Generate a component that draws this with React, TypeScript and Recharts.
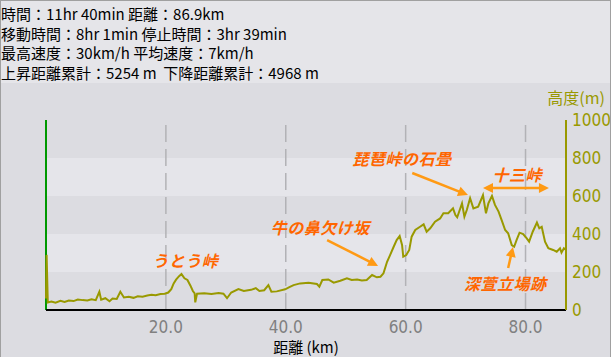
import React from 'react'
import {
  LineChart,
  Line,
  XAxis,
  YAxis,
  ReferenceArea,
  ReferenceLine,
  ReferenceDot,
} from 'recharts'

// distance (km) and elevation (m)
const distanceKm = [
  0, 0.1, 0.3, 0.9, 1.6, 2.4, 3.1, 3.8, 4.6, 5.3, 6.1, 6.9, 7.6, 8.3, 8.9, 9.2,
  9.9, 10.6, 11.1, 11.8, 12.4, 13.0, 13.8, 14.6, 15.3, 16.1, 16.9, 17.6, 18.3,
  19.1, 19.8, 20.4, 20.9, 21.3, 21.7, 22.2, 22.6, 23.1, 23.6, 24.1, 24.5, 24.8,
  24.9, 25.2, 26.4, 27.6, 28.8, 29.6, 30.2, 30.9, 32.1, 33.0, 34.2, 35.0, 35.6,
  36.4, 37.1, 37.6, 38.5, 39.9, 40.6, 41.3, 42.4, 43.8, 45.2, 45.6, 46.1, 47.1,
  48.0, 49.1, 50.2, 51.0, 51.9, 52.7, 53.5, 54.4, 55.2, 55.8, 56.3, 56.9, 57.4,
  58.0, 58.5, 59.0, 59.4, 59.6, 60.1, 60.6, 61.0, 61.6, 62.4, 63.0, 63.5, 64.1,
  64.9, 65.75, 66.3, 67.1, 67.9, 68.3, 68.6, 69.4, 69.8, 70.2, 70.75, 71.3,
  72.1, 72.9, 73.4, 73.8, 74.4, 74.9, 75.5, 76.0, 76.6, 77.1, 77.7, 78.1, 78.5,
  79.0, 79.6, 80.2, 80.6, 81.2, 81.9, 82.3, 82.7, 83.25, 83.8, 84.6, 85.2,
  85.75, 86.0, 86.4, 86.75,
]
const elevationM = [
  60, 290, 40, 45, 38, 48, 42, 50, 47, 55, 52, 50, 56, 52, 96, 54, 62, 46, 60,
  58, 96, 66, 70, 64, 72, 70, 76, 80, 78, 84, 86, 92, 110, 140, 160, 178, 189,
  167, 158, 128, 100, 88, 40, 86, 88, 84, 90, 86, 62, 92, 110, 100, 106, 115,
  100, 104, 131, 96, 98, 109, 120, 131, 140, 144, 137, 123, 158, 161, 144, 154,
  167, 158, 161, 155, 158, 184, 172, 175, 193, 254, 289, 333, 368, 389, 342,
  281, 289, 316, 386, 421, 438, 451, 412, 430, 465, 482, 509, 509, 535, 500,
  488, 561, 491, 526, 588, 535, 544, 605, 509, 561, 600, 553, 518, 474, 421,
  404, 342, 333, 368, 407, 400, 377, 360, 412, 460, 430, 438, 360, 325, 316,
  307, 325, 302, 325, 316,
]

const xTicks = [20, 40, 60, 80]
const yTicks = [0, 200, 400, 600, 800, 1000]
const lightBands = [
  [200, 400],
  [600, 800],
]

const summaryLines = [
  '時間：11hr 40min 距離：86.9km',
  '移動時間：8hr 1min 停止時間：3hr 39min',
  '最高速度：30km/h 平均速度：7km/h',
  '上昇距離累計：5254 m  下降距離累計：4968 m',
]

// place names (km, m) and arrows (from -> to, in km / m)
const placeLabels = [
  { text: 'うとう峠', km: 23.25, m: 258 },
  { text: '牛の鼻欠け坂', km: 45.75, m: 432 },
  { text: '琵琶峠の石畳', km: 59.4, m: 795 },
  { text: '十三峠', km: 78.6, m: 710 },
  { text: '深萱立場跡', km: 76.6, m: 137 },
]
const arrows = [
  { from: [46.9, 368], to: [55.4, 232], both: false },
  { from: [61.1, 721], to: [70.4, 605], both: false },
  { from: [72.9, 642], to: [83.9, 642], both: true },
  { from: [77.1, 221], to: [77.9, 332], both: false },
]

const data = distanceKm.map((km, i) => ({ km, ele: elevationM[i] }))

const OLIVE = '#999900'
const ORANGE_TEXT = '#ff6600'
const ORANGE_ARROW = '#ff9a14'
const TICK_FONT = '"Liberation Sans Narrow", "DejaVu Sans Condensed", sans-serif'
const JP_FONT = '"Noto Sans CJK JP", sans-serif'

function head(x: number, y: number, fx: number, fy: number) {
  // triangle pointing at (x, y), coming from (fx, fy)
  const len = Math.hypot(x - fx, y - fy) || 1
  const ux = (x - fx) / len
  const uy = (y - fy) / len
  const L = 10
  const W = 5
  const bx = x - ux * L
  const by = y - uy * L
  return `${x},${y} ${bx - uy * W},${by + ux * W} ${bx + uy * W},${by - ux * W}`
}

function arrowShape(both: boolean) {
  return (p: any) => {
    const { x1, y1, x2, y2 } = p
    const len = Math.hypot(x2 - x1, y2 - y1) || 1
    const ux = (x2 - x1) / len
    const uy = (y2 - y1) / len
    const sx = both ? x1 + ux * 8 : x1
    const sy = both ? y1 + uy * 8 : y1
    return (
      <g>
        <line
          x1={sx}
          y1={sy}
          x2={x2 - ux * 8}
          y2={y2 - uy * 8}
          stroke={ORANGE_ARROW}
          strokeWidth={2.5}
        />
        <polygon points={head(x2, y2, x1, y1)} fill={ORANGE_ARROW} />
        {both && <polygon points={head(x1, y1, x2, y2)} fill={ORANGE_ARROW} />}
      </g>
    )
  }
}

function placeShape(text: string) {
  return (p: any) => (
    <text
      x={p.cx}
      y={p.cy}
      dy={6}
      textAnchor="middle"
      fill={ORANGE_TEXT}
      fontFamily={JP_FONT}
      fontSize={16}
      fontWeight={700}
      fontStyle="italic"
      letterSpacing={0.5}
    >
      {text}
    </text>
  )
}

function XTick(p: any) {
  return (
    <text
      x={p.x}
      y={p.y + 21}
      textAnchor="middle"
      fill="#808080"
      fontFamily={TICK_FONT}
      fontSize={17}
    >
      {Number(p.payload.value).toFixed(1)}
    </text>
  )
}

function YTick(p: any) {
  return (
    <text
      x={p.x + 4}
      y={p.y + 6}
      textAnchor="start"
      fill={OLIVE}
      fontFamily={TICK_FONT}
      fontSize={17}
    >
      {p.payload.value}
    </text>
  )
}

export default function App() {
  return (
    <div
      style={{
        position: 'absolute',
        left: 0,
        top: 0,
        width: 611,
        height: 357,
        background: '#dcdce1',
        overflow: 'hidden',
      }}
    >
      <div
        style={{
          position: 'absolute',
          left: 0,
          top: 0,
          width: 611,
          height: 83,
          background: '#e5e5e9',
        }}
      />
      <div
        style={{
          position: 'absolute',
          left: 1,
          top: 4,
          fontFamily: JP_FONT,
          fontSize: 15,
          lineHeight: '19.5px',
          color: '#000',
          whiteSpace: 'pre',
        }}
      >
        {summaryLines.map((s) => (
          <div key={s}>{s}</div>
        ))}
      </div>
      <div
        style={{
          position: 'absolute',
          right: 6,
          top: 87,
          fontFamily: JP_FONT,
          fontSize: 16,
          lineHeight: '20px',
          color: OLIVE,
        }}
      >
        高度(m)
      </div>
      <div
        style={{
          position: 'absolute',
          left: 0,
          width: 612,
          top: 338,
          textAlign: 'center',
          fontFamily: JP_FONT,
          fontSize: 15,
          lineHeight: '18px',
          color: '#000',
        }}
      >
        距離 (km)
      </div>
      <div style={{ position: 'absolute', left: 0, top: 0 }}>
        <LineChart
          width={611}
          height={357}
          data={data}
          margin={{ top: 120, right: 0, bottom: 0, left: 46 }}
        >
          <XAxis
            dataKey="km"
            type="number"
            domain={[0, 86.75]}
            ticks={xTicks}
            height={47}
            tickSize={0}
            tickLine={false}
            axisLine={{ stroke: '#000', strokeWidth: 2 }}
            tick={<XTick />}
          />
          <YAxis
            orientation="right"
            domain={[0, 1000]}
            ticks={yTicks}
            width={45}
            tickSize={0}
            tickLine={false}
            axisLine={{ stroke: OLIVE, strokeWidth: 2 }}
            tick={<YTick />}
          />
          {lightBands.map(([a, b]) => (
            <ReferenceArea
              key={a}
              y1={a}
              y2={b}
              fill="#e5e5ea"
              fillOpacity={1}
              stroke="none"
            />
          ))}
          {xTicks.map((t) => (
            <ReferenceLine
              key={t}
              x={t}
              stroke="#b2b2b6"
              strokeWidth={1.5}
              strokeDasharray="17 7"
            />
          ))}
          <ReferenceLine x={0} stroke="#009900" strokeWidth={2} />
          <Line
            type="linear"
            dataKey="ele"
            stroke={OLIVE}
            strokeWidth={2}
            dot={false}
            activeDot={false}
            isAnimationActive={false}
          />
          {arrows.map((a, i) => (
            <ReferenceLine
              key={i}
              segment={[
                { x: a.from[0], y: a.from[1] },
                { x: a.to[0], y: a.to[1] },
              ]}
              ifOverflow="visible"
              shape={arrowShape(a.both)}
            />
          ))}
          {placeLabels.map((l) => (
            <ReferenceDot
              key={l.text}
              x={l.km}
              y={l.m}
              r={0}
              ifOverflow="visible"
              shape={placeShape(l.text)}
            />
          ))}
        </LineChart>
      </div>
      <div
        style={{
          position: 'absolute',
          left: 0,
          top: 0,
          width: 611,
          height: 357,
          boxSizing: 'border-box',
          borderTop: '1px solid #a0a0a0',
          borderLeft: '1px solid #a0a0a0',
          borderRight: '1px solid #a0a0a0',
          pointerEvents: 'none',
        }}
      />
    </div>
  )
}
